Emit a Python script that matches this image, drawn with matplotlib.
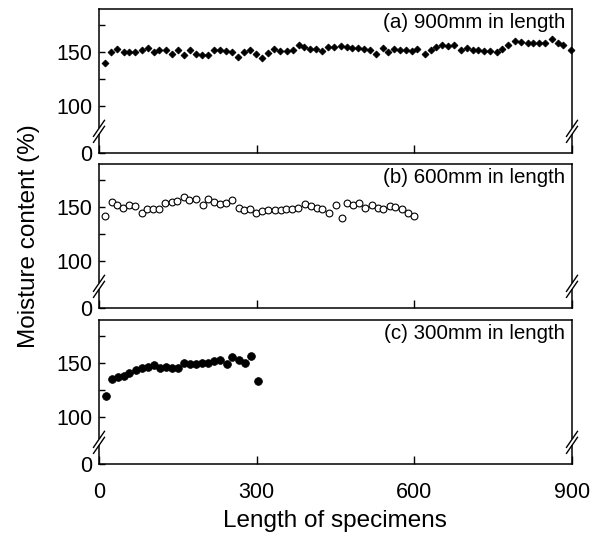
import matplotlib
matplotlib.use("Agg")
import matplotlib.pyplot as plt

plt.rcParams['font.family'] = ['Liberation Sans', 'DejaVu Sans']

# ---------------- data ----------------
x_a = [11, 23, 35, 47, 58, 68, 81, 93, 104, 115, 127, 138, 150, 161, 173, 184, 196, 208, 219, 231,
       242, 254, 265, 276, 288, 299, 311, 322, 333, 345, 357, 369, 380, 391, 401, 412, 424, 436, 447, 460,
       471, 482, 493, 505, 516, 528, 541, 550, 562, 573, 584, 595, 606, 620, 632, 642, 652, 665, 676, 689,
       700, 712, 722, 733, 744, 757, 767, 779, 791, 803, 816, 826, 837, 849, 862, 874, 883, 899]
y_a = [140.5, 150, 153.4, 150, 150, 150.5, 152, 154, 150.5, 152, 152, 148.5, 152, 147.5, 152, 148.5, 147.5, 147.5, 152, 152,
       151.5, 150, 146, 150, 152, 148.5, 144.5, 149, 153, 151.5, 151.5, 152, 157, 154.5, 153, 153, 151.5, 155, 154.5, 156,
       154.5, 154.3, 154, 153.4, 152.5, 148.8, 154.3, 150.3, 153.4, 152.5, 151.9, 151.2, 153.4, 148.8, 152.5, 154.9, 156.5, 155.6, 156.5, 151.9,
       154, 152.5, 151.9, 151.2, 150.9, 150.3, 153.4, 156.5, 160.5, 159.6, 159, 159, 159, 159, 162, 159, 157, 151.9]

x_b = [11, 24, 35, 46, 57, 68, 81, 92, 103, 114, 126, 138, 149, 162, 172, 184, 197, 208, 219, 230,
       241, 254, 266, 276, 287, 299, 311, 322, 335, 346, 356, 368, 379, 392, 403, 414, 425, 438, 450, 462,
       472, 483, 495, 507, 519, 530, 540, 553, 564, 576, 588, 599]
y_b = [142.1, 154.8, 151.8, 149.7, 151.8, 151.2, 144.5, 148.8, 148.2, 148.8, 153.6, 154.8, 155.5, 159.7, 156.4, 157.9, 152.4, 157.9, 154.8, 153,
       154.2, 156.7, 149.4, 147.6, 148.2, 144.5, 146.4, 147.6, 147.6, 147.6, 148.2, 148.8, 149.4, 153, 151.2, 149.4, 148.8, 145.2, 151.8, 140.3,
       153.6, 151.8, 154.2, 149.4, 151.8, 149.4, 148.2, 151.2, 150.6, 148.2, 144.5, 142.1]

x_c = [13, 24, 36, 47, 58, 70, 81, 93, 104, 116, 127, 138, 150, 162, 173, 185, 196, 208, 219, 231,
       244, 254, 266, 278, 289, 302]
y_c = [120, 135.2, 137.5, 138.5, 141.2, 143.6, 146, 146.7, 148.2, 146, 146.7, 146, 145.5, 150.6, 149.7, 149.1, 150.6, 150.3, 151.8, 153.3,
       149.1, 155.7, 152.7, 150.3, 156.6, 133.4]

panel_titles = ["(a) 900mm in length", "(b) 600mm in length", "(c) 300mm in length"]
x_ticks = [0, 300, 600, 900]
y_tick_vals = [57, 100, 150]
y_tick_labels = ["0", "100", "150"]
y_minor = [125, 175]

# ---------------- figure ----------------
W, H = 602, 541
fig = plt.figure(figsize=(W / 100, H / 100), dpi=100)

left = 99 / W
width = 473 / W
tops = [9, 164, 320]
ph = 144

series = [
    (x_a, y_a, dict(marker='D', color='black', markersize=3.5, markeredgewidth=0.6, linestyle='none')),
    (x_b, y_b, dict(marker='o', markerfacecolor='white', markeredgecolor='black', markersize=4.9,
                    markeredgewidth=0.8, linestyle='none')),
    (x_c, y_c, dict(marker='o', color='black', markersize=5.6, markeredgewidth=0.5, linestyle='none')),
]

YMIN, YMAX = 57, 190
axes = []
for i, (xs, ys, style) in enumerate(series):
    bottom = 1 - (tops[i] + ph) / H
    ax = fig.add_axes([left, bottom, width, ph / H])
    axes.append(ax)
    ax.plot(xs, ys, clip_on=False, zorder=5, **style)
    ax.set_xlim(0, 900)
    ax.set_ylim(YMIN, YMAX)
    for s in ax.spines.values():
        s.set_linewidth(1.1)
    ax.set_yticks(y_tick_vals)
    ax.set_yticklabels(y_tick_labels)
    ax.set_yticks(y_minor, minor=True)
    ax.set_xticks(x_ticks)
    ax.tick_params(axis='y', which='both', direction='in', length=4, width=1.0, labelsize=15.5, pad=5,
                   right=False, left=True)
    ax.tick_params(axis='x', which='both', direction='in', length=6, width=1.0, labelsize=15.5, pad=13,
                   top=False, bottom=True)
    if i < 2:
        ax.tick_params(axis='x', labelbottom=False)
    ax.text(0.985, 0.905, panel_titles[i], transform=ax.transAxes, ha='right', va='center', fontsize=14.8)

    # axis break marks on both vertical spines
    yb = (77 - YMIN) / (YMAX - YMIN)
    dxs = 5.5 / 473
    dys = 8 / 144
    sep = 3 / 144
    for xe in (0.0, 1.0):
        ax.plot([xe, xe], [yb - sep, yb + sep], transform=ax.transAxes, color='white', lw=3,
                clip_on=False, zorder=10, solid_capstyle='butt')
        for off in (-sep, sep):
            ax.plot([xe - dxs, xe + dxs], [yb + off - dys, yb + off + dys], transform=ax.transAxes,
                    color='black', lw=1.0, clip_on=False, zorder=11)

fig.text(335 / W, 1 - 521 / H, "Length of specimens", ha='center', va='center', fontsize=17.5)
fig.text(29 / W, 1 - 236 / H, "Moisture content (%)", ha='center', va='center', rotation=90, fontsize=17.5)

fig.savefig("out.png", dpi=100)
